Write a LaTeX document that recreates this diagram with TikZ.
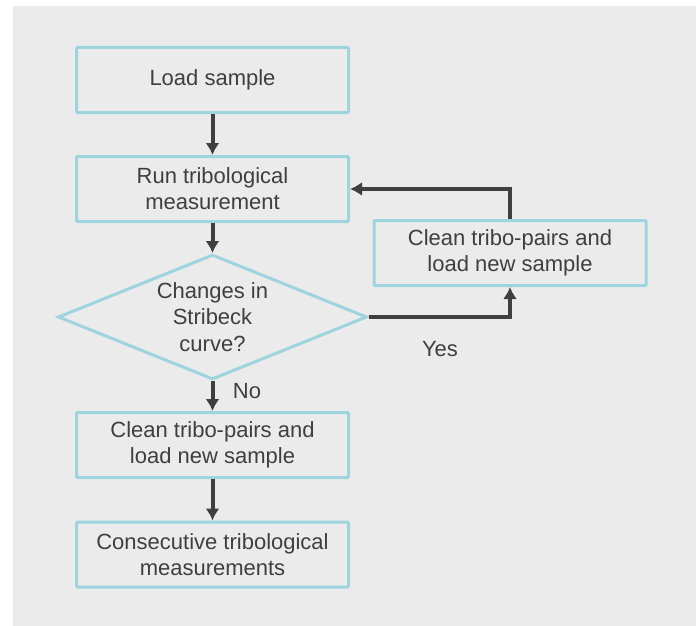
\documentclass[tikz,border=0pt]{standalone}
\usepackage{fontspec}
\setmainfont{Liberation Sans}
\usepackage{tikz}
\usetikzlibrary{arrows.meta,shapes.geometric}

\definecolor{boxline}{HTML}{9DD4DE}
\definecolor{flowgray}{HTML}{3F3F3F}
\definecolor{paneback}{HTML}{EBEBEB}

\tikzset{
  stepbox/.style={draw=boxline,line width=3pt,rounded corners=1pt,
    minimum width=272pt,minimum height=65pt,align=center,
    text=flowgray,font=\fontsize{22}{26}\selectfont},
  decision/.style={diamond,draw=boxline,line width=3pt,aspect=2.47,
    minimum width=309pt,minimum height=125pt,inner sep=0pt,align=center,
    text=flowgray,font=\fontsize{22}{26.5}\selectfont},
  flowarrow/.style={draw=flowgray,line width=4pt,
    -{Latex[length=12pt,width=14pt]}},
  flowlabel/.style={text=flowgray,font=\fontsize{22}{26}\selectfont}
}

\begin{document}
\begin{tikzpicture}[x=1pt,y=-1pt]
  % Configurable parameters
  \def\colx{212.5}
  \def\sidex{510}
  %
  % Background
  \useasboundingbox (0,0) rectangle (696,626);
  \fill[paneback] (13,6) rectangle (696,626);
  %
  % Main column
  \node[stepbox] (load) at (\colx,80) {Load sample};
  \node[stepbox] (run) at (\colx,189) {Run tribological\\measurement};
  \node[decision] (changes) at (\colx,317) {Changes in\\Stribeck\\curve?};
  \node[stepbox] (cleannext) at (\colx,445) {Clean tribo-pairs and\\load new sample};
  \node[stepbox] (consec) at (\colx,554.5) {Consecutive tribological\\measurements};
  %
  % Side loop
  \node[stepbox] (cleanloop) at (\sidex,253) {Clean tribo-pairs and\\load new sample};
  %
  % Connectors
  \draw[flowarrow] (load) -- (run);
  \draw[flowarrow] (run) -- (changes);
  \draw[flowarrow] (changes) -- (cleannext);
  \draw[flowarrow] (cleannext) -- (consec);
  \draw[flowarrow] (changes.east) -| (cleanloop.south);
  \draw[flowarrow] (cleanloop.north) |- (run.east);
  %
  % Labels
  \node[flowlabel] (yes) at (440,349) {Yes};
  \node[flowlabel] (no) at (247,391) {No};
  %
\end{tikzpicture}
\end{document}
